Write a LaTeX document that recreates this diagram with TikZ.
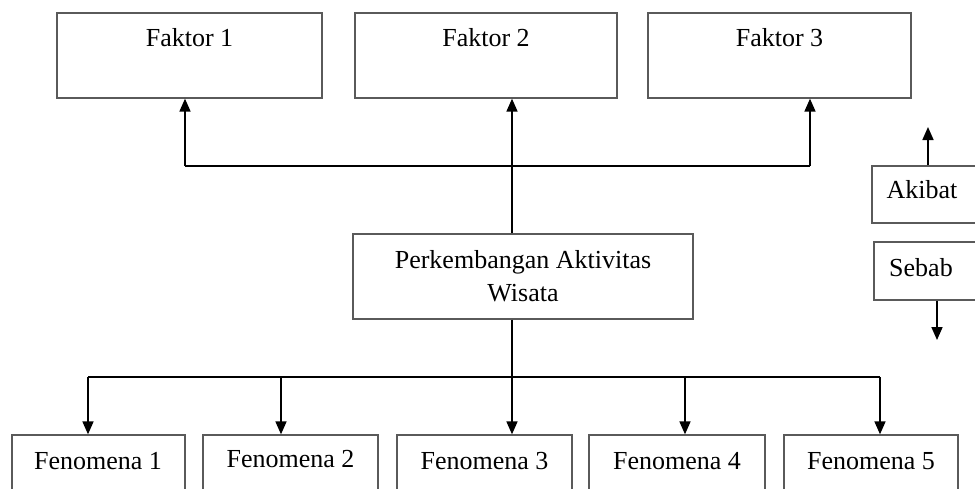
\documentclass[tikz,border=0pt]{standalone}
\usepackage{fontspec}
\setmainfont{Liberation Serif}
\usetikzlibrary{arrows.meta}
\definecolor{boxgray}{HTML}{5A5A5A}
\begin{document}
\begin{tikzpicture}[x=1pt,y=-1pt,
  box/.style={draw=boxgray, line width=1.3pt, inner sep=0pt, fill=white},
  txt/.style={font=\fontsize{26}{33}\selectfont, inner sep=0pt, align=center},
  conn/.style={line width=1.7pt, draw=black},
  thinconn/.style={line width=1.1pt, draw=black},
  arr/.style={conn, -{Triangle[length=13pt,width=11pt]}}]
\useasboundingbox (0,0) rectangle (975,488);
\clip (0,0) rectangle (975,488);
% Faktor boxes
\node[box, minimum width=265, minimum height=85] (f1) at (189.5,55.5) {};
\node[box, minimum width=262, minimum height=85] (f2) at (486,55.5) {};
\node[box, minimum width=263, minimum height=85] (f3) at (779.5,55.5) {};
\node[txt] (f1t) at (189.5,38) {Faktor 1};
\node[txt] (f2t) at (486,38) {Faktor 2};
\node[txt] (f3t) at (779.5,38) {Faktor 3};
% central box
\node[box, minimum width=340, minimum height=85] (c) at (523,276.5) {};
\node[txt] (ct) at (523,276) {Perkembangan Aktivitas\\Wisata};
% Fenomena boxes
\node[box, minimum width=173, minimum height=80] (e1) at (98.5,475) {};
\node[box, minimum width=175, minimum height=80] (e2) at (290.5,475) {};
\node[box, minimum width=175, minimum height=80] (e3) at (484.5,475) {};
\node[box, minimum width=176, minimum height=80] (e4) at (677,475) {};
\node[box, minimum width=174, minimum height=80] (e5) at (871,475) {};
\node[txt] (e1t) at (98,461) {Fenomena 1};
\node[txt] (e2t) at (290.5,459) {Fenomena 2};
\node[txt] (e3t) at (484.5,461) {Fenomena 3};
\node[txt] (e4t) at (677,461) {Fenomena 4};
\node[txt] (e5t) at (871,461) {Fenomena 5};
% legend boxes
\node[box, minimum width=118, minimum height=57] (akb) at (931,194.5) {};
\node[box, minimum width=116, minimum height=58] (seb) at (932,271) {};
\node[txt] (akt) at (922,190) {Akibat};
\node[txt] (set) at (921,268) {Sebab};
% top bus
\coordinate (t1) at (185,166);
\coordinate (t2) at (512,166);
\coordinate (t3) at (810,166);
\draw[conn] (t1) -- (t3);
\draw[arr] (t1) -- (t1 |- f1.south);
\draw[arr] (t3) -- (t3 |- f3.south);
\draw[arr] (c.north -| t2) -- (t2 |- f2.south);
% bottom bus
\coordinate (b1) at (88,377);
\coordinate (b2) at (281,377);
\coordinate (b3) at (512,377);
\coordinate (b4) at (685,377);
\coordinate (b5) at (880,377);
\draw[thinconn] (c.south -| b3) -- (b3);
\draw[conn] (b1) -- (b5);
\draw[arr] (b1) -- (b1 |- e1.north);
\draw[arr] (b2) -- (b2 |- e2.north);
\draw[arr] (b3) -- (b3 |- e3.north);
\draw[arr] (b4) -- (b4 |- e4.north);
\draw[arr] (b5) -- (b5 |- e5.north);
% legend arrows
\coordinate (ak) at (928,127);
\coordinate (sb) at (937,340);
\draw[arr] (ak |- akb.north) -- (ak);
\draw[arr] (sb |- seb.south) -- (sb);
\end{tikzpicture}
\end{document}
